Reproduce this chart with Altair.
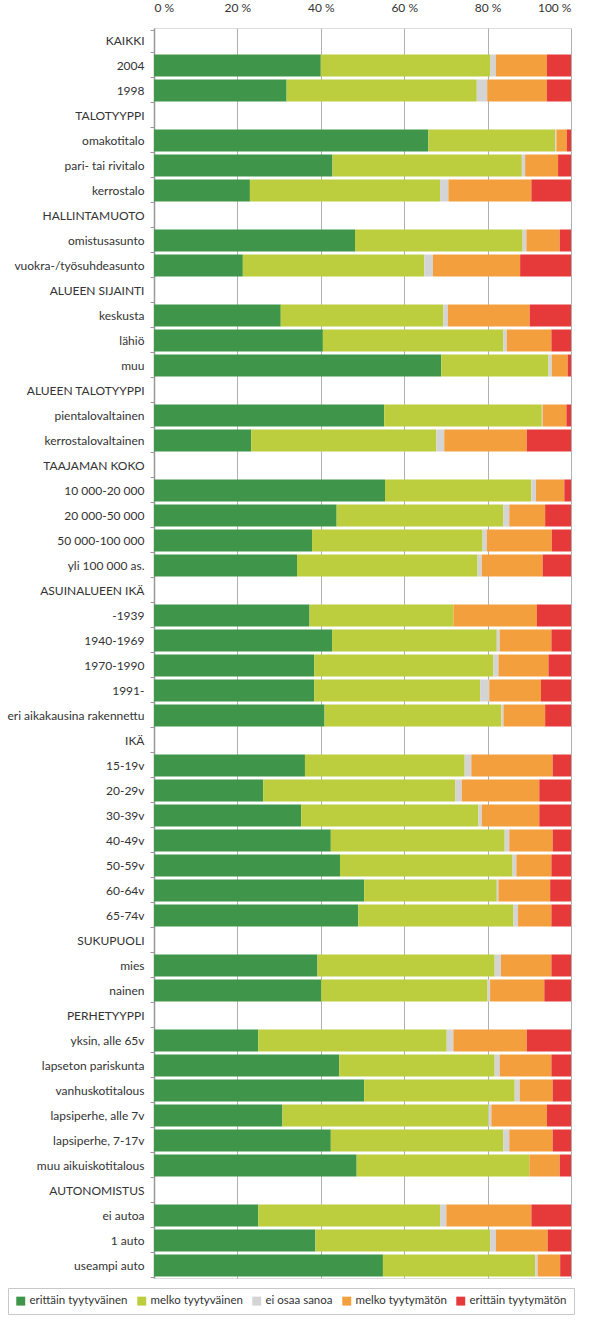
import altair as alt
import pandas as pd

rows = [
    "KAIKKI", "2004", "1998",
    "TALOTYYPPI", "omakotitalo", "pari- tai rivitalo", "kerrostalo",
    "HALLINTAMUOTO", "omistusasunto", "vuokra-/työsuhdeasunto",
    "ALUEEN SIJAINTI", "keskusta", "lähiö", "muu",
    "ALUEEN TALOTYYPPI", "pientalovaltainen", "kerrostalovaltainen",
    "TAAJAMAN KOKO", "10 000-20 000", "20 000-50 000", "50 000-100 000", "yli 100 000 as.",
    "ASUINALUEEN IKÄ", "-1939", "1940-1969", "1970-1990", "1991-", "eri aikakausina rakennettu",
    "IKÄ", "15-19v", "20-29v", "30-39v", "40-49v", "50-59v", "60-64v", "65-74v",
    "SUKUPUOLI", "mies", "nainen",
    "PERHETYYPPI", "yksin, alle 65v", "lapseton pariskunta", "vanhuskotitalous",
    "lapsiperhe, alle 7v", "lapsiperhe, 7-17v", "muu aikuiskotitalous",
    "AUTONOMISTUS", "ei autoa", "1 auto", "useampi auto",
]

categories = ["erittäin tyytyväinen", "melko tyytyväinen", "ei osaa sanoa",
              "melko tyytymätön", "erittäin tyytymätön"]
colors = ["#3f954a", "#bccd3e", "#d4d4d4", "#f39f3e", "#e5393a"]

N = None
erittain_tyytyvainen = [N, 40.0, 31.8, N, 65.8, 42.8, 23.0, N, 48.2, 21.3, N, 30.4, 40.5, 68.9,
                        N, 55.2, 23.3, N, 55.4, 43.8, 37.9, 34.3, N, 37.3, 42.7, 38.4, 38.4, 40.9,
                        N, 36.2, 26.2, 35.3, 42.4, 44.6, 50.4, 49.0, N, 39.2, 40.1,
                        N, 25.0, 44.4, 50.4, 30.8, 42.4, 48.6, N, 25.0, 38.7, 54.9]
melko_tyytyvainen = [N, 40.7, 45.6, N, 30.4, 45.4, 45.6, N, 40.2, 43.5, N, 39.0, 43.3, 25.7,
                     N, 37.8, 44.4, N, 35.1, 40.0, 40.9, 43.3, N, 34.5, 39.5, 43.0, 39.8, 42.4,
                     N, 38.3, 46.0, 42.5, 41.7, 41.4, 31.8, 37.2, N, 42.5, 39.9,
                     N, 45.2, 37.3, 36.1, 49.4, 41.4, 41.4, N, 43.6, 41.9, 36.5]
ei_osaa_sanoa = [N, 1.3, 2.5, N, 0.3, 0.8, 2.0, N, 0.9, 2.1, N, 1.1, 0.8, 0.8,
                 N, 0.2, 1.9, N, 1.1, 1.4, 1.0, 1.0, N, 0.0, 0.7, 1.2, 2.2, 0.5,
                 N, 1.6, 1.6, 0.8, 1.1, 0.9, 0.4, 1.1, N, 1.5, 0.6,
                 N, 1.6, 1.2, 1.2, 0.7, 1.4, 0.0, N, 1.5, 1.4, 0.6]
melko_tyytymaton = [N, 12.2, 14.3, N, 2.5, 7.9, 19.9, N, 8.0, 20.9, N, 19.6, 10.7, 3.8,
                    N, 5.7, 19.8, N, 6.8, 8.6, 15.6, 14.6, N, 20.0, 12.4, 12.0, 12.4, 10.0,
                    N, 19.5, 18.6, 13.8, 10.4, 8.4, 12.4, 8.0, N, 12.1, 13.0,
                    N, 17.6, 12.4, 7.9, 13.3, 10.4, 7.3, N, 20.4, 12.4, 5.4]
erittain_tyytymaton = [N, 5.8, 5.8, N, 1.0, 3.1, 9.5, N, 2.7, 12.2, N, 9.9, 4.7, 0.8,
                       N, 1.1, 10.6, N, 1.6, 6.2, 4.6, 6.8, N, 8.2, 4.7, 5.4, 7.2, 6.2,
                       N, 4.4, 7.6, 7.6, 4.4, 4.7, 5.0, 4.7, N, 4.7, 6.4,
                       N, 10.6, 4.7, 4.4, 5.8, 4.4, 2.7, N, 9.5, 5.6, 2.6]

series = [erittain_tyytyvainen, melko_tyytyvainen, ei_osaa_sanoa,
          melko_tyytymaton, erittain_tyytymaton]

records = []
for ci, (cat, vals) in enumerate(zip(categories, series)):
    for r, v in zip(rows, vals):
        if v is None:
            continue
        records.append({"rivi": r, "luokka": cat, "arvo": v, "jarjestys": ci})
df = pd.DataFrame(records)

FONT = "Lato"

chart = alt.Chart(df).mark_bar(opacity=1).encode(
    x=alt.X("arvo:Q", stack="zero",
            scale=alt.Scale(domain=[0, 100], nice=False),
            axis=alt.Axis(orient="top", values=[0, 20, 40, 60, 80, 100],
                          labelExpr="datum.value + ' %'", title=None,
                          domain=False, ticks=False, labelPadding=14,
                          labelFontSize=12, labelColor="#333", labelFont=FONT,
                          grid=True, gridColor="#b0b0b0", gridWidth=1)),
    y=alt.Y("rivi:N", sort=rows,
            scale=alt.Scale(domain=rows, paddingInner=0.12, paddingOuter=0.06),
            axis=alt.Axis(title=None, tickBand="extent", tickSize=4, tickColor="#999",
                          domainColor="#999", domainWidth=1.5, labelPadding=6,
                          labelFontSize=12, labelColor="#333", labelFont=FONT,
                          labelLimit=200)),
    color=alt.Color("luokka:N",
                    scale=alt.Scale(domain=categories, range=colors),
                    legend=alt.Legend(title=None, orient="none", direction="horizontal",
                                      legendX=-146, legendY=1260,
                                      symbolType="square", symbolSize=80,
                                      symbolStrokeWidth=0, labelFontSize=11.5,
                                      labelFont=FONT, labelColor="#333",
                                      columnPadding=8, padding=7, labelOffset=3,
                                      strokeColor="#c8c8c8", fillColor="white")),
    order=alt.Order("jarjestys:Q"),
).properties(
    width=417, height=1250,
    autosize=alt.AutoSizeParams(type="none"),
    padding={"left": 154, "top": 28, "right": 36, "bottom": 45},
).configure_view(stroke=None).configure(background="white")

chart.save("out.html", embed_options={"renderer": "svg", "actions": False})
